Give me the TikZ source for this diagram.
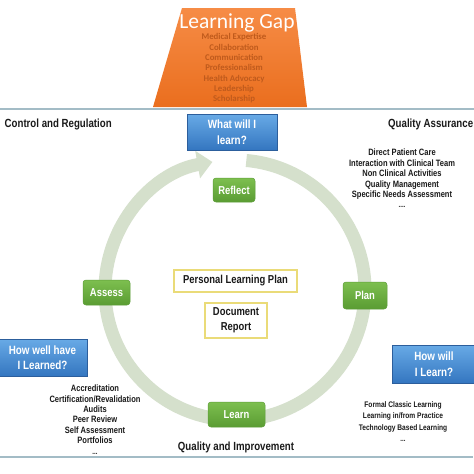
\documentclass[tikz,border=0pt]{standalone}
\usepackage{fontspec}
\setmainfont{Liberation Sans}[FakeStretch=0.82]
\newfontfamily\calibri{Carlito}
\usetikzlibrary{arrows.meta}
\definecolor{ringcol}{HTML}{D5E0CC}
\definecolor{linecol}{HTML}{A3BCC6}
\definecolor{gaptext}{HTML}{BF5A1C}
\definecolor{orangetop}{HTML}{F68C46}
\definecolor{orangebot}{HTML}{EA6E1E}
\definecolor{bluetop}{HTML}{68AAE6}
\definecolor{bluebot}{HTML}{3476C0}
\definecolor{blueedge}{HTML}{2C5E9C}
\definecolor{greentop}{HTML}{7DBF4F}
\definecolor{greenbot}{HTML}{5A9C33}
\definecolor{greenedge}{HTML}{5E9E3A}
\definecolor{yellowedge}{HTML}{EADB78}
\definecolor{txt}{HTML}{1A1A1A}
\tikzset{
  ring/.style={draw=ringcol, line width=13pt, -{Triangle[length=15pt,width=27pt]}},
  bluebox/.style={top color=bluetop, bottom color=bluebot, draw=blueedge, line width=0.6pt,
    text=white, align=center, inner sep=0pt,
    font={\fontsize{12}{15.5}\selectfont\bfseries}},
  greenbox/.style={top color=greentop, bottom color=greenbot, draw=greenedge, line width=0.5pt,
    rounded corners=3pt, text=white, inner sep=0pt,
    font={\fontsize{11.5}{14}\selectfont\bfseries}},
  yellowbox/.style={fill=white, draw=yellowedge, line width=1.6pt, text=txt, align=center,
    inner sep=0pt, font={\fontsize{11.5}{15}\selectfont\bfseries}},
  heading/.style={text=txt, inner sep=0pt, font={\fontsize{11.8}{14}\selectfont\bfseries}},
  listtext/.style={text=txt, align=center, inner sep=0pt, font={\fontsize{9.2}{10.4}\selectfont\bfseries}},
  smalllist/.style={text=txt, align=center, inner sep=0pt, font={\fontsize{8.1}{11.3}\selectfont\bfseries}},
  gapitems/.style={text=gaptext, align=center, inner sep=0pt, font={\calibri\fontsize{8.8}{10.35}\selectfont\bfseries}},
}
\begin{document}
\begin{tikzpicture}[x=1pt,y=-1pt]
\useasboundingbox (0,0) rectangle (474,474);
\fill[white] (0,0) rectangle (474,474);

% Learning Gap trapezoid
\shade[top color=orangetop, bottom color=orangebot]
  (182,8) -- (295,8) -- (307,107) -- (153,107) -- cycle;
\node[text=white, inner sep=0pt, font={\calibri\fontsize{21.5}{24}\selectfont}] (gaptitle) at (237,23) {Learning Gap};
\node[gapitems] (gaplist) at (234,68.5) {Medical Expertise\\Collaboration\\Communication\\Professionalism\\Health Advocacy\\Leadership\\Scholarship};

% separator lines
\coordinate (tl) at (0,109);
\coordinate (tr) at (474,109);
\coordinate (bl) at (0,457);
\coordinate (br) at (473,457);
\draw[linecol, line width=1.4pt] (tl) -- (tr);
\draw[linecol, line width=1.6pt] (bl) -- (br);

% cycle ring
\coordinate (ringc) at (235,290);
\draw[ring] (ringc) ++(-85:130) arc[start angle=-85, end angle=260, radius=130];

% headings
\node[heading, anchor=west] (control) at (4.5,124) {Control and Regulation};
\node[heading, anchor=west] (qa) at (388,124) {Quality Assurance};
\node[heading] (qi) at (236,447) {Quality and Improvement};

% blue boxes
\node[bluebox, minimum width=90pt, minimum height=36pt] (what) at (232,132) {What will I\\learn?};
\node[bluebox, minimum width=90pt, minimum height=37pt] (howwell) at (42.5,357.5) {How well have\\I Learned?};
\node[bluebox, minimum width=84pt, minimum height=38pt] (howwill) at (434,364) {How will\\I Learn?};

% green cycle boxes
\node[greenbox, minimum width=42pt, minimum height=24pt] (reflect) at (234,190) {Reflect};
\node[greenbox, minimum width=47pt, minimum height=25pt] (assess) at (106.5,292.5) {Assess};
\node[greenbox, minimum width=44pt, minimum height=27pt] (plan) at (365,295.5) {Plan};
\node[greenbox, minimum width=57pt, minimum height=25pt] (learn) at (236.5,414.5) {Learn};

% yellow boxes
\node[yellowbox, minimum width=123pt, minimum height=22pt] (plp) at (235.5,281) {Personal Learning Plan};
\node[yellowbox, minimum width=62pt, minimum height=35pt] (doc) at (236,320.5) {Document\\Report};

% lists
\node[listtext] (qalist) at (402,178.5) {Direct Patient Care\\Interaction with Clinical Team\\Non Clinical Activities\\Quality Management\\Specific Needs Assessment\\{\fontsize{7.5}{10.4}\selectfont ....}};
\node[listtext] (crlist) at (95,419.5) {Accreditation\\Certification/Revalidation\\Audits\\Peer Review\\Self Assessment\\Portfolios\\{\fontsize{7.5}{10.4}\selectfont ...}};
\node[smalllist] (learnlist) at (403,421.5) {Formal Classic Learning\\Learning in/from Practice\\Technology Based Learning\\{\fontsize{7.5}{11.3}\selectfont ...}};
\end{tikzpicture}
\end{document}
